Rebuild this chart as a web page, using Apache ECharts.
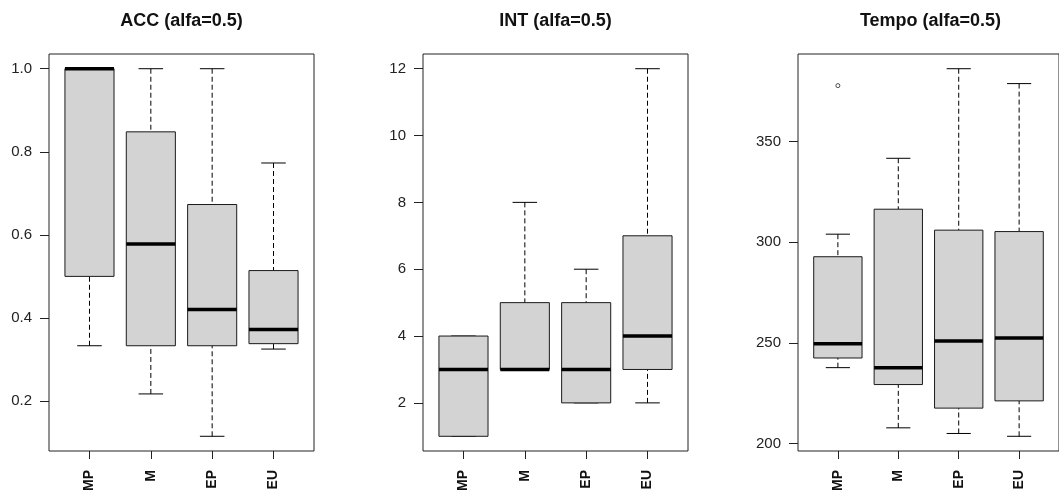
<!DOCTYPE html>
<html>
<head>
<meta charset="utf-8">
<script src="https://cdn.jsdelivr.net/npm/echarts@6/dist/echarts.min.js"></script>
<style>
  html, body { margin: 0; padding: 0; background: #ffffff; }
  #chart { width: 1059px; height: 494px; }
</style>
</head>
<body>
<div id="chart"></div>
<script>
// Groups shown on every panel
const categories = ['MP', 'M', 'EP', 'EU'];
const panelTitles = ['ACC (alfa=0.5)', 'INT (alfa=0.5)', 'Tempo (alfa=0.5)'];

// Five-number summaries per group: [lower whisker, Q1, median, Q3, upper whisker]
const accStats = [
  [0.333, 0.500, 1.000, 1.000, 1.000],
  [0.217, 0.333, 0.578, 0.848, 1.000],
  [0.115, 0.333, 0.420, 0.673, 1.000],
  [0.325, 0.338, 0.372, 0.514, 0.773]
];
const intStats = [
  [1, 1, 3, 4, 4],
  [3, 3, 3, 5, 8],
  [2, 2, 3, 5, 6],
  [2, 3, 4, 7, 12]
];
const tempoStats = [
  [237.7, 242.5, 249.6, 292.8, 304.0],
  [207.8, 229.3, 237.7, 316.4, 341.7],
  [205.0, 217.6, 251.0, 306.0, 386.2],
  [203.6, 221.2, 252.4, 305.3, 378.8]
];

// Points beyond the whiskers: [group number, value]
const accOutliers = [];
const intOutliers = [];
const tempoOutliers = [[1, 377.8]];

// Y-axis tick values
const accTicks = [0.2, 0.4, 0.6, 0.8, 1.0];
const intTicks = [2, 4, 6, 8, 10, 12];
const tempoTicks = [200, 250, 300, 350];

const panels = [
  { stats: accStats, outliers: accOutliers, ticks: accTicks, fmt: v => v.toFixed(1) },
  { stats: intStats, outliers: intOutliers, ticks: intTicks, fmt: v => String(v) },
  { stats: tempoStats, outliers: tempoOutliers, ticks: tempoTicks, fmt: v => String(v) }
];

// Plot-region layout
const gridLefts = [49, 423, 798];
const gridTop = 54;
const gridWidth = 265;
const gridHeight = 399;

// Value range padded by 4% on each side
function paddedRange(stats, outliers) {
  const vals = stats.flat().concat(outliers.map(o => o[1]));
  const lo = Math.min(...vals), hi = Math.max(...vals);
  const pad = (hi - lo) * 0.04;
  return [lo - pad, hi + pad];
}

// Group positions 1..n, box width 0.8, x range padded like the y range
const nGroups = categories.length;
const xMin = 0.5 - nGroups * 0.04;
const xMax = nGroups + 0.5 + nGroups * 0.04;
const positions = categories.map((_, i) => i + 1);

function renderBox(params, api) {
  const x = api.value(0);
  const lo = api.value(1), q1 = api.value(2), med = api.value(3), q3 = api.value(4), hi = api.value(5);
  const cx = api.coord([x, med])[0];
  const half = api.size([0.8, 0])[0] / 2;
  const capHalf = half / 2;
  const y = v => api.coord([x, v])[1];
  const dashed = { stroke: '#000000', lineWidth: 1, lineDash: [5, 3] };
  const solid = { stroke: '#000000', lineWidth: 1 };
  return {
    type: 'group',
    children: [
      { type: 'line', shape: { x1: cx, y1: y(hi), x2: cx, y2: y(q3) }, style: dashed },
      { type: 'line', shape: { x1: cx, y1: y(lo), x2: cx, y2: y(q1) }, style: dashed },
      { type: 'line', shape: { x1: cx - capHalf, y1: y(hi), x2: cx + capHalf, y2: y(hi) }, style: solid },
      { type: 'line', shape: { x1: cx - capHalf, y1: y(lo), x2: cx + capHalf, y2: y(lo) }, style: solid },
      { type: 'rect', shape: { x: cx - half, y: y(q3), width: 2 * half, height: y(q1) - y(q3) },
        style: { fill: '#d3d3d3', stroke: '#1a1a1a', lineWidth: 1 } },
      { type: 'line', shape: { x1: cx - half, y1: y(med), x2: cx + half, y2: y(med) },
        style: { stroke: '#000000', lineWidth: 3.5 } }
    ]
  };
}

const grid = [], xAxis = [], yAxis = [], series = [], title = [];

panels.forEach((p, i) => {
  const [yMin, yMax] = paddedRange(p.stats, p.outliers);
  grid.push({
    left: gridLefts[i], top: gridTop, width: gridWidth, height: gridHeight,
    show: true, borderColor: '#222222', borderWidth: 1, backgroundColor: 'transparent'
  });
  xAxis.push({
    type: 'value', gridIndex: i, min: xMin, max: xMax,
    axisLine: { show: false, onZero: false },
    splitLine: { show: false },
    axisTick: { show: true, length: 8, customValues: positions, lineStyle: { color: '#222222', width: 1 } },
    axisLabel: {
      show: true, customValues: positions, rotate: 90, margin: 19,
      fontFamily: 'Liberation Sans, Arial, sans-serif', fontSize: 14, fontWeight: 'bold', color: '#111111',
      formatter: v => categories[Math.round(v) - 1] || ''
    }
  });
  yAxis.push({
    type: 'value', gridIndex: i, min: yMin, max: yMax,
    axisLine: { show: false, onZero: false },
    splitLine: { show: false },
    axisTick: { show: true, length: 9, customValues: p.ticks, lineStyle: { color: '#222222', width: 1 } },
    axisLabel: {
      show: true, customValues: p.ticks, margin: 17,
      fontFamily: 'Liberation Sans, Arial, sans-serif', fontSize: 15, color: '#222222',
      formatter: v => p.fmt(v)
    }
  });
  series.push({
    type: 'custom', xAxisIndex: i, yAxisIndex: i,
    renderItem: renderBox,
    data: p.stats.map((s, k) => [positions[k]].concat(s)),
    clip: false, silent: true
  });
  series.push({
    type: 'scatter', xAxisIndex: i, yAxisIndex: i,
    data: p.outliers,
    symbol: 'circle', symbolSize: 4,
    itemStyle: { color: 'rgba(0,0,0,0)', borderColor: '#222222', borderWidth: 1 },
    silent: true
  });
  title.push({
    text: panelTitles[i],
    left: gridLefts[i] + gridWidth / 2, top: 12, textAlign: 'center', padding: 0,
    textStyle: { fontFamily: 'Liberation Sans, Arial, sans-serif', fontSize: 18, fontWeight: 'bold', color: '#111111' }
  });
});

const chart = echarts.init(document.getElementById('chart'), null, { renderer: 'canvas' });
chart.setOption({
  animation: false,
  backgroundColor: '#ffffff',
  title, grid, xAxis, yAxis, series
});
</script>
</body>
</html>
